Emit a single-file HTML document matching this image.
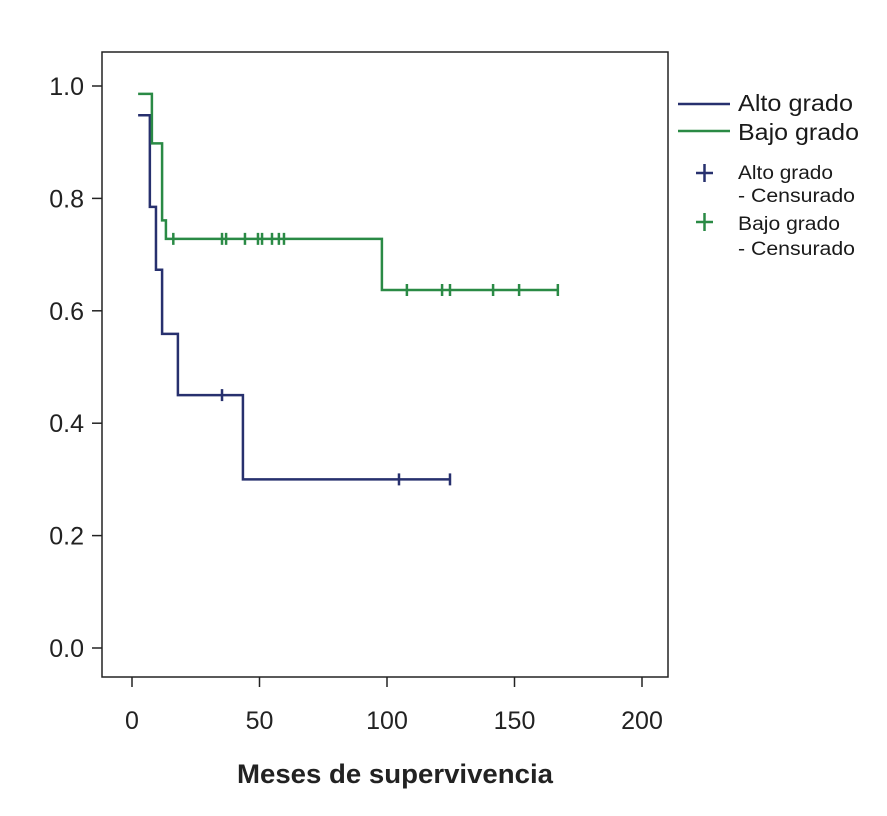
<!DOCTYPE html>
<html><head><meta charset="utf-8"><style>
html,body{margin:0;padding:0;background:#fff;}
svg{display:block;font-family:"Liberation Sans Narrow","Liberation Sans",sans-serif;}
</style></head><body>
<svg id="chart" width="887" height="816" viewBox="0 0 887 816">
<rect x="102" y="52" width="566" height="625" fill="none" stroke="#222" stroke-width="1.5"/>
<g id="axes"></g>
<g id="series"></g>
<text x="395" y="783" text-anchor="middle" font-size="27" font-weight="bold" fill="#222" textLength="316" lengthAdjust="spacingAndGlyphs">Meses de supervivencia</text>
<g>
<line x1="678" y1="104" x2="730" y2="104" stroke="#27306e" stroke-width="2.5"/>
<text x="738" y="111" font-size="23" fill="#1a1a1a" textLength="115" lengthAdjust="spacingAndGlyphs">Alto grado</text>
<line x1="678" y1="131" x2="730" y2="131" stroke="#2a8a45" stroke-width="2.5"/>
<text x="738" y="140" font-size="23" fill="#1a1a1a" textLength="121" lengthAdjust="spacingAndGlyphs">Bajo grado</text>
<path d="M696 173H713M704.5 164V182" stroke="#27306e" stroke-width="2.5"/>
<text x="738" y="179" font-size="19" fill="#1a1a1a" textLength="95" lengthAdjust="spacingAndGlyphs">Alto grado</text>
<text x="738" y="202" font-size="19" fill="#1a1a1a" textLength="117" lengthAdjust="spacingAndGlyphs">- Censurado</text>
<path d="M696 222H713M704.5 213V231" stroke="#2a8a45" stroke-width="2.5"/>
<text x="738" y="230" font-size="19" fill="#1a1a1a" textLength="102" lengthAdjust="spacingAndGlyphs">Bajo grado</text>
<text x="738" y="255" font-size="19" fill="#1a1a1a" textLength="117" lengthAdjust="spacingAndGlyphs">- Censurado</text>
</g>
</svg>
<script>
const xTicks = [0, 50, 100, 150, 200];
const yTicks = [0.0, 0.2, 0.4, 0.6, 0.8, 1.0];
const yTickLabels = ["0.0", "0.2", "0.4", "0.6", "0.8", "1.0"];
const altoStart = 2.4;
const altoTimes = [7, 9.4, 11.8, 18, 43.5];
const altoSurv = [0.948, 0.785, 0.673, 0.559, 0.45, 0.30];
const altoEnd = 125;
const altoCensor = [35.3, 104.7, 124.7];
const bajoStart = 2.4;
const bajoTimes = [7.8, 11.8, 13.3, 98];
const bajoSurv = [0.986, 0.898, 0.761, 0.728, 0.637];
const bajoEnd = 167;
const bajoCensor = [16.2, 35.3, 36.9, 44.3, 49.4, 51, 54.9, 57.6, 59.6, 107.8, 121.6, 124.7, 141.6, 151.8, 167];

const NS = "http://www.w3.org/2000/svg";
const X = t => 132 + t * 2.55;
const Y = s => 648 - s * 562;
const axes = document.getElementById('axes');
const series = document.getElementById('series');
function mk(tag, attrs, parent) {
  const e = document.createElementNS(NS, tag);
  for (const k in attrs) e.setAttribute(k, attrs[k]);
  parent.appendChild(e);
  return e;
}
xTicks.forEach(v => {
  const l = mk('line', {x1: X(v), x2: X(v), y1: 677, y2: 687, stroke: '#222', 'stroke-width': 1.5}, axes);
  
  
  const t = mk('text', {x: X(v), y: 729, 'text-anchor': 'middle', 'font-size': 25, fill: '#222'}, axes);
  t.textContent = String(v);
  
  
});
yTicks.forEach((v, i) => {
  const l = mk('line', {x1: 92, x2: 102, y1: Y(v), y2: Y(v), stroke: '#222', 'stroke-width': 1.5}, axes);
  
  
  const t = mk('text', {x: 84, y: Y(v) + 9, 'text-anchor': 'end', 'font-size': 25, fill: '#222'}, axes);
  t.textContent = yTickLabels[i];
  
  
});
function stepPath(start, times, surv, end) {
  let d = 'M' + X(start) + ' ' + Y(surv[0]);
  times.forEach((t, i) => { d += 'H' + X(t) + 'V' + Y(surv[i + 1]); });
  d += 'H' + X(end);
  return d;
}
function survAt(t, times, surv) {
  let s = surv[0];
  times.forEach((tt, i) => { if (t >= tt) s = surv[i + 1]; });
  return s;
}
function drawSeries(name, color, start, times, surv, end, cens) {
  const p = mk('path', {d: stepPath(start, times, surv, end), fill: 'none', stroke: color, 'stroke-width': 2.5}, series);
  
  
  cens.forEach(c => {
    const y = Y(survAt(c, times, surv));
    const m = mk('line', {x1: X(c), x2: X(c), y1: y - 6, y2: y + 6, stroke: color, 'stroke-width': 2.5}, series);
    
    
  });
}
drawSeries('alto-grado', '#27306e', altoStart, altoTimes, altoSurv, altoEnd, altoCensor);
drawSeries('bajo-grado', '#2a8a45', bajoStart, bajoTimes, bajoSurv, bajoEnd, bajoCensor);
</script>
</body></html>
